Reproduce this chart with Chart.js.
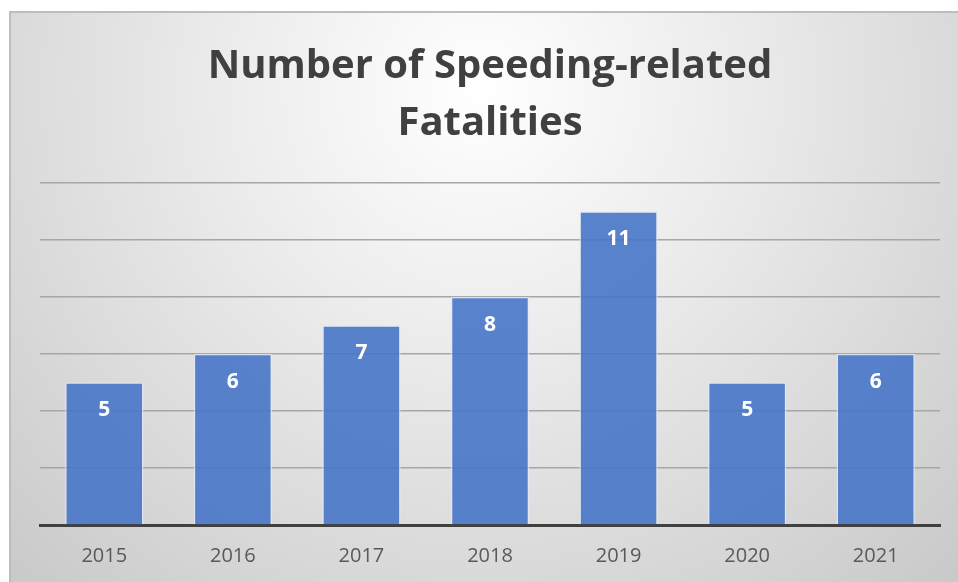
<!DOCTYPE html>
<html>
<head>
<meta charset="utf-8">
<script src="https://cdn.jsdelivr.net/npm/chart.js@4"></script>
<style>
html,body{margin:0;padding:0;background:#fff;}
#wrap{width:958px;height:582px;position:relative;}
</style>
</head>
<body>
<div id="wrap"><canvas id="c" width="958" height="582"></canvas></div>
<script>
const titleLines = ['Number of Speeding-related', 'Fatalities'];
const years = ['2015', '2016', '2017', '2018', '2019', '2020', '2021'];
const fatalities = [5, 6, 7, 8, 11, 5, 6];
const yMin = 0, yMax = 12, yStep = 2;

const bgPlugin = {
  id: 'bg',
  beforeDraw(chart) {
    const ctx = chart.ctx;
    const w = chart.width, h = chart.height;
    ctx.save();
    ctx.fillStyle = '#ffffff';
    ctx.fillRect(0, 0, w, h);
    const g = ctx.createRadialGradient(480, 90, 0, 480, 90, 720);
    g.addColorStop(0, '#ffffff');
    g.addColorStop(0.35, '#ececec');
    g.addColorStop(1, '#c6c6c6');
    ctx.fillStyle = g;
    ctx.fillRect(9, 11, w - 9, h - 11);
    ctx.strokeStyle = '#bdbdbd';
    ctx.lineWidth = 2;
    ctx.beginPath();
    ctx.moveTo(10, h + 2);
    ctx.lineTo(10, 12);
    ctx.lineTo(w + 2, 12);
    ctx.stroke();
    ctx.restore();
  }
};

const labelPlugin = {
  id: 'vlabels',
  afterDatasetsDraw(chart) {
    const ctx = chart.ctx;
    const meta = chart.getDatasetMeta(0);
    ctx.save();
    ctx.fillStyle = '#ffffff';
    ctx.font = 'bold 21px "Open Sans", sans-serif';
    ctx.textAlign = 'center';
    ctx.textBaseline = 'middle';
    meta.data.forEach((el, i) => {
      ctx.fillText(String(chart.data.datasets[0].data[i]), el.x, el.y + 28);
    });
    ctx.restore();
  }
};

new Chart(document.getElementById('c'), {
  type: 'bar',
  data: {
    labels: years,
    datasets: [{
      data: fatalities,
      backgroundColor: 'rgba(72,118,200,0.9)',
      borderColor: 'rgba(225,232,245,0.75)',
      borderWidth: 1.5,
      categoryPercentage: 0.61,
      barPercentage: 1.0
    }]
  },
  options: {
    responsive: false,
    animation: false,
    events: [],
    layout: { padding: { left: 40, right: 18, top: 0, bottom: 0 } },
    plugins: {
      legend: { display: false },
      tooltip: { enabled: false },
      title: {
        display: true,
        text: titleLines,
        color: '#404040',
        font: { family: '"Open Sans", sans-serif', size: 40, weight: 'bold', lineHeight: 1.42 },
        padding: { top: 38, bottom: 31 }
      }
    },
    scales: {
      x: {
        grid: { display: false, drawTicks: false },
        border: { display: true, color: '#404040', width: 3 },
        ticks: { color: '#595959', font: { family: '"Open Sans", sans-serif', size: 20 }, padding: 19 },
        afterFit(s) { s.height = 57; }
      },
      y: {
        min: yMin, max: yMax,
        ticks: { display: false, stepSize: yStep },
        grid: { color: '#a6a6a6', lineWidth: 1.5, drawTicks: false },
        border: { display: false },
        afterFit(s) { s.width = 0; }
      }
    }
  },
  plugins: [bgPlugin, labelPlugin]
});
</script>
</body>
</html>
